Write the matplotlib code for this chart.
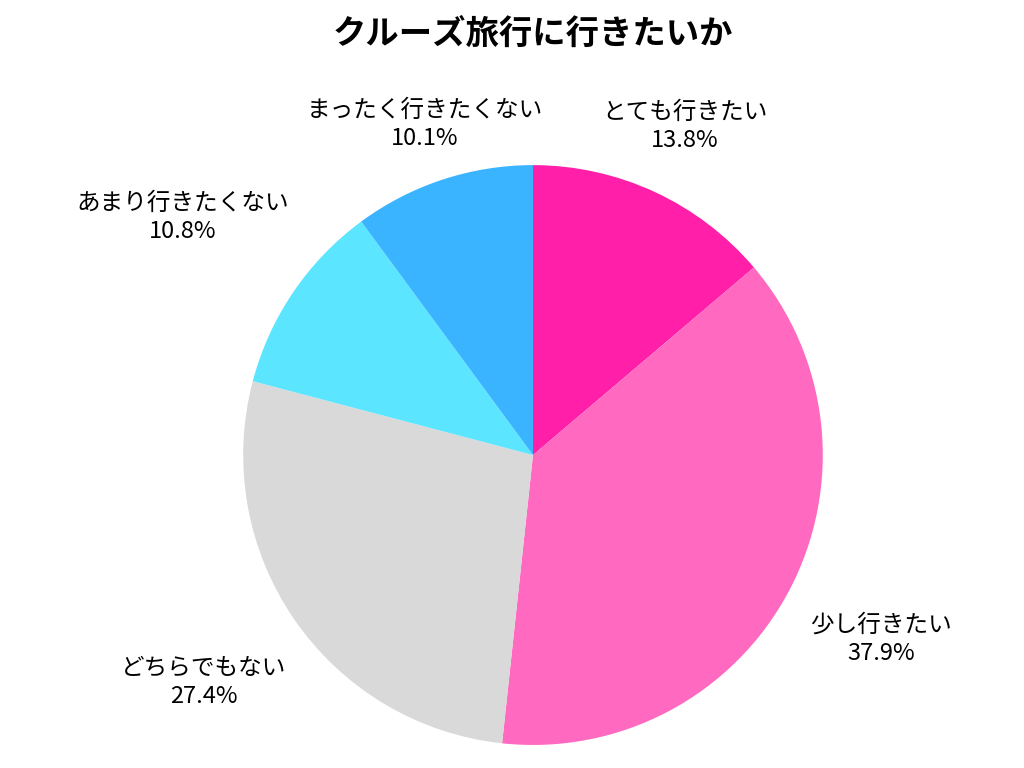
import matplotlib
matplotlib.use("Agg")
import matplotlib.pyplot as plt
import numpy as np

plt.rcParams['font.family'] = ['Noto Sans CJK JP', 'DejaVu Sans']

labels = ["とても行きたい", "少し行きたい", "どちらでもない", "あまり行きたくない", "まったく行きたくない"]
values = [13.8, 37.9, 27.4, 10.8, 10.1]
colors = ["#FF1FA8", "#FF69C0", "#D9D9D9", "#5CE5FF", "#3BB4FF"]
label_dist = [1.25, 1.36, 1.38, 1.46, 1.2]

fig = plt.figure(figsize=(10.24, 7.68), dpi=100)
ax = fig.add_axes([0.2375, 0.03, 0.566, 0.755])
wedges, _ = ax.pie(values, colors=colors, startangle=90, counterclock=False, radius=1)
ax.set_xlim(-1, 1); ax.set_ylim(-1, 1)
ax.set_aspect('auto')
ax.axis('off')
for w, lab, v, d in zip(wedges, labels, values, label_dist):
    ang = np.deg2rad((w.theta1 + w.theta2) / 2)
    ax.text(d * np.cos(ang), d * np.sin(ang), f"{lab}\n{v:.1f}%", ha='center', va='center',
            fontsize=17, linespacing=1.3, clip_on=False)
fig.text(0.5205, 0.955, "クルーズ旅行に行きたいか", ha='center', va='center', fontsize=24, fontweight='bold')
fig.savefig("out.png", dpi=100)
